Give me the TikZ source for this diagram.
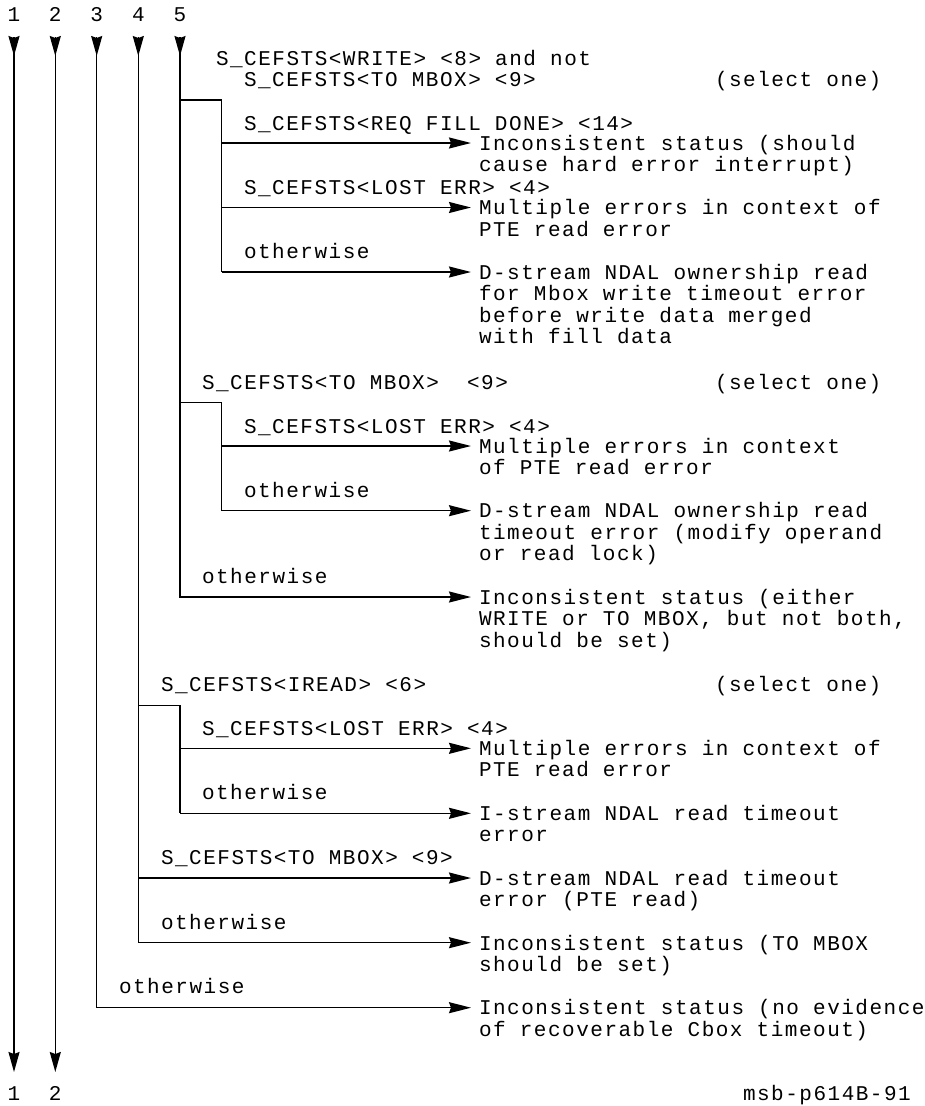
\documentclass[tikz,border=0pt]{standalone}
\usepackage{fontspec}
\newfontfamily\chartfont{Liberation Mono}[LetterSpace=7.2]
\usetikzlibrary{arrows.meta}
\begin{document}
\begin{tikzpicture}[x=1pt,y=-1pt,
  wire/.style={line width=1.5pt, line join=miter},
  flow/.style={wire, -{Stealth[length=22pt,width=11pt,inset=2pt]}},
  drop/.style={wire, -{Stealth[length=20pt,width=11pt,inset=2pt]}},
  txt/.style={inner sep=0pt, outer sep=0pt, anchor=base west,
    font=\chartfont\fontsize{21}{21.5}\selectfont},
  outcome/.style={txt, anchor=north west, align=left,
    execute at begin node=\rule{0pt}{17pt}},
  num/.style={txt, anchor=base},
]
\useasboundingbox (0,0) rectangle (925,1106);

% ---- the five incoming flow lines --------------------------------
\foreach \i/\x in {1/14,2/55.3,3/96.7,4/138.3,5/180}{
  \node[num] (top\i) at (\x,21.7) {\i};
  \coordinate (t\i) at (\x,37);
  \coordinate (h\i) at (\x,56);
  \draw[drop] (t\i) -- (h\i);
}
% lines 1 and 2 pass straight through
\coordinate (e1) at (14,1072);
\coordinate (e2) at (55.3,1072);
\draw[drop] (t1) -- (e1);
\draw[drop] (t2) -- (e2);
\node[num] (bot1) at (14,1100.5) {1};
\node[num] (bot2) at (55.3,1100.5) {2};
\node[txt] (fig) at (743,1100) {msb-p614B-91};

% ---- line 5: WRITE and not TO MBOX -------------------------------
\node[txt] (w0) at (216,65) {S\_CEFSTS<WRITE> <8> and not};
\node[txt] (w1) at (244,86.5) {S\_CEFSTS<TO MBOX> <9>};
\node[txt] (sel1) at (715,86.5) {(select one)};
\node[txt] (w2) at (244,130) {S\_CEFSTS<REQ FILL DONE> <14>};
\node[txt] (w3) at (244,194) {S\_CEFSTS<LOST ERR> <4>};
\node[txt] (w4) at (244,258.5) {otherwise};
\node[outcome] (ra1) at (479,152-17) {Inconsistent status (should\\cause hard error interrupt)};
\node[outcome] (ra2) at (479,216.5-17) {Multiple errors in context of\\PTE read error};
\node[outcome] (ra3) at (479,281-17) {D-stream NDAL ownership read\\for Mbox write timeout error\\before write data merged\\with fill data};

\coordinate (j1) at (180,100);
\coordinate (k1) at (221.7,100);
\coordinate (a11) at (471,143);
\coordinate (a12) at (471,207.5);
\coordinate (a13) at (471,272);
\draw[wire] (j1) -- (k1) -- (k1 |- a13);
\draw[flow] (k1 |- a11) -- (a11);
\draw[flow] (k1 |- a12) -- (a12);
\draw[flow] (k1 |- a13) -- (a13);

% ---- line 5: TO MBOX ---------------------------------------------
\node[txt] (m0) at (202,389) {S\_CEFSTS<TO MBOX>\ \ <9>};
\node[txt] (sel2) at (715,389) {(select one)};
\node[txt] (m1) at (244,433) {S\_CEFSTS<LOST ERR> <4>};
\node[txt] (m2) at (244,497) {otherwise};
\node[txt] (m3) at (202,583) {otherwise};
\node[outcome] (rb1) at (479,455-17) {Multiple errors in context\\of PTE read error};
\node[outcome] (rb2) at (479,519.7-17) {D-stream NDAL ownership read\\timeout error (modify operand\\or read lock)};
\node[outcome] (rb3) at (479,606-17) {Inconsistent status (either\\WRITE or TO MBOX, but not both,\\should be set)};

\coordinate (j2) at (180,402.7);
\coordinate (k2) at (221.7,402.7);
\coordinate (a21) at (471,446);
\coordinate (a22) at (471,510.7);
\coordinate (a23) at (471,597);
\draw[wire] (j2) -- (k2) -- (k2 |- a22);
\draw[flow] (k2 |- a21) -- (a21);
\draw[flow] (k2 |- a22) -- (a22);
\draw[flow] (t5) |- (a23);

% ---- line 4: IREAD -----------------------------------------------
\node[txt] (i0) at (161,691) {S\_CEFSTS<IREAD> <6>};
\node[txt] (sel3) at (715,691) {(select one)};
\node[txt] (i1) at (202,735) {S\_CEFSTS<LOST ERR> <4>};
\node[txt] (i2) at (202,799.5) {otherwise};
\node[txt] (i3) at (161,864) {S\_CEFSTS<TO MBOX> <9>};
\node[txt] (i4) at (161,929.5) {otherwise};
\node[outcome] (rc1) at (479,757-17) {Multiple errors in context of\\PTE read error};
\node[outcome] (rc2) at (479,822-17) {I-stream NDAL read timeout\\error};
\node[outcome] (rc3) at (479,887-17) {D-stream NDAL read timeout\\error (PTE read)};
\node[outcome] (rc4) at (479,952-17) {Inconsistent status (TO MBOX\\should be set)};

\coordinate (j3) at (138.3,705.3);
\coordinate (k3) at (180,705.3);
\coordinate (a31) at (471,748.3);
\coordinate (a32) at (471,813.3);
\coordinate (a33) at (471,878);
\coordinate (a34) at (471,942.7);
\draw[wire] (j3) -- (k3) -- (k3 |- a32);
\draw[flow] (k3 |- a31) -- (a31);
\draw[flow] (k3 |- a32) -- (a32);
\draw[flow] (t4 |- a33) -- (a33);
\draw[flow] (t4) |- (a34);

% ---- line 3: no recognised status ---------------------------------
\node[txt] (n0) at (119,993.5) {otherwise};
\node[outcome] (rd1) at (479,1016.5-17) {Inconsistent status (no evidence\\of recoverable Cbox timeout)};
\coordinate (a41) at (471,1007.7);
\draw[flow] (t3) |- (a41);
\end{tikzpicture}
\end{document}
